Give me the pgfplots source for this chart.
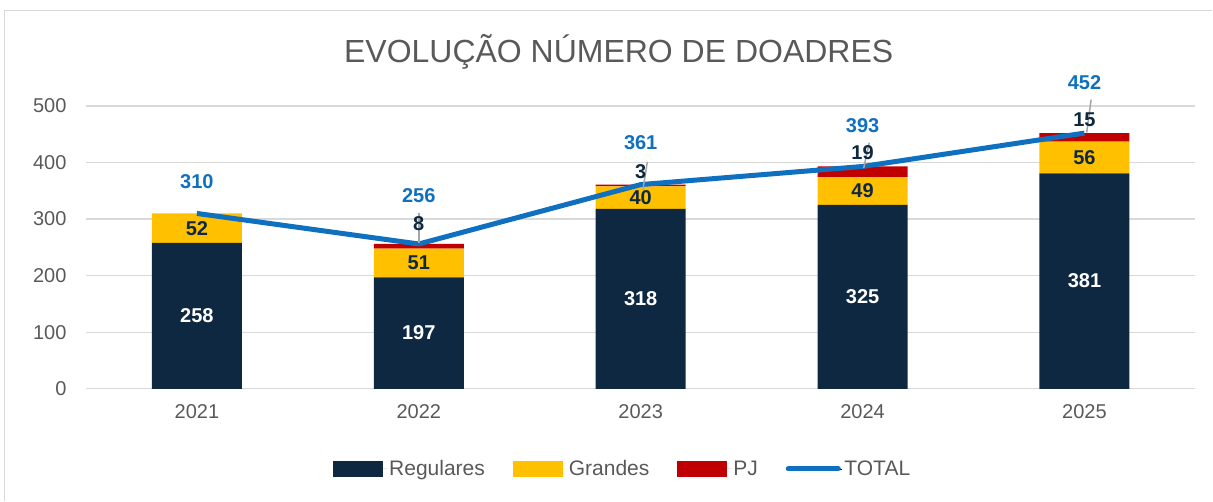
\documentclass[border=0pt]{standalone}
\usepackage{pgfplots}
\usepackage{pgfplotstable}
\pgfplotsset{compat=1.18}
\usepackage{fontspec}
\setmainfont{Liberation Sans}
\definecolor{regc}{HTML}{0E2841}
\definecolor{grac}{HTML}{FFC000}
\definecolor{pjc}{HTML}{C00000}
\definecolor{totc}{HTML}{0F70C0}
\definecolor{leadc}{HTML}{A6A6A6}
\definecolor{gridc}{HTML}{D9D9D9}
\definecolor{tickc}{HTML}{595959}
\pgfplotstableread{
year reg gra pj tot
2021 258 52 0 310
2022 197 51 8 256
2023 318 40 3 361
2024 325 49 19 393
2025 381 56 15 452
}\data
\pgfplotstableread{
year y v
2022 292 8
2023 384 3
2024 417 19
2025 475 15
}\pjlab
\pgfplotstableread{
year y v
2021 366 310
2022 342 256
2023 436 361
2024 466 393
2025 542 452
}\totlab
\begin{document}
\begin{tikzpicture}
\path (0,0) rectangle (1213pt,501pt);
\draw[gridc, line width=1.2pt] (4.5pt,0pt) -- (4.5pt,490.5pt) -- (1213pt,490.5pt);
\node[anchor=base, text=tickc, font=\fontsize{32}{38}\selectfont] at (619pt,438pt) {EVOLUÇÃO NÚMERO DE DOADRES};
\begin{axis}[
  at={(86pt,112pt)}, anchor=south west, scale only axis,
  width=1110pt, height=283pt,
  xmin=2020.5, xmax=2025.5, ymin=0, ymax=500,
  ybar stacked, bar width=90pt,
  xtick={2021,2022,2023,2024,2025},
  xticklabels={2021,2022,2023,2024,2025},
  ytick={0,100,200,300,400,500},
  axis line style={draw=none},
  major tick length=0pt,
  ymajorgrids, grid style={gridc, line width=1.2pt},
  /pgf/number format/assume math mode=true,
  tick label style={font=\fontsize{20}{24}\selectfont, text=tickc},
  yticklabel style={xshift=-16pt},
  xticklabel style={yshift=-12pt},
  legend columns=4,
  legend style={at={(0.4838,-0.2827)}, anchor=center, draw=none, fill=none,
    font=\fontsize{21}{25}\selectfont, text=tickc,
    /tikz/every even column/.append style={column sep=26pt}},
]
\addplot[fill=regc, draw=none,
  legend image code/.code={\path (0pt,0pt) -- (54pt,0pt);\fill[regc] (0pt,-8pt) rectangle (50pt,8pt);}]
  table[x=year,y=reg]{\data};
\addlegendentry{Regulares}
\addplot[fill=grac, draw=none,
  legend image code/.code={\path (0pt,0pt) -- (54pt,0pt);\fill[grac] (0pt,-8pt) rectangle (50pt,8pt);}]
  table[x=year,y=gra]{\data};
\addlegendentry{Grandes}
\addplot[fill=pjc, draw=none,
  legend image code/.code={\path (0pt,0pt) -- (54pt,0pt);\fill[pjc] (0pt,-8pt) rectangle (50pt,8pt);}]
  table[x=year,y=pj]{\data};
\addlegendentry{PJ}
\addlegendimage{legend image code/.code={\path (0pt,0pt) -- (56pt,0pt);\draw[totc, line width=5pt, line cap=round] (2pt,0pt) -- (52pt,0pt);}}
\addlegendentry{TOTAL}
\end{axis}
\begin{axis}[
  at={(86pt,112pt)}, anchor=south west, scale only axis,
  width=1110pt, height=283pt,
  xmin=2020.5, xmax=2025.5, ymin=0, ymax=500,
  hide axis, clip=false,
  /pgf/number format/assume math mode=true,
]
\addplot[totc, line width=5pt, line join=round, mark=none] table[x=year,y=tot]{\data};
\addplot[draw=none, mark=none, nodes near coords, point meta=explicit,
  nodes near coords align=center,
  every node near coord/.append style={text=white, font=\bfseries\fontsize{20}{24}\selectfont}]
  table[x=year, y expr=\thisrow{reg}/2, meta=reg]{\data};
\addplot[draw=none, mark=none, nodes near coords, point meta=explicit,
  nodes near coords align=center,
  every node near coord/.append style={text=regc, font=\bfseries\fontsize{20}{24}\selectfont}]
  table[x=year, y expr=\thisrow{reg}+\thisrow{gra}/2, meta=gra]{\data};
\addplot[draw=none, mark=none, nodes near coords, point meta=explicit,
  nodes near coords align=center,
  every node near coord/.append style={text=regc, font=\bfseries\fontsize{20}{24}\selectfont}]
  table[x=year, y=y, meta=v]{\pjlab};
\addplot[leadc, line width=1.5pt, mark=none] coordinates {(2022,311) (2022,257)};
\addplot[leadc, line width=1.5pt, mark=none] coordinates {(2023.03,401) (2023.01,352)};
\addplot[leadc, line width=1.5pt, mark=none] coordinates {(2024.03,435) (2024.005,390)};
\addplot[leadc, line width=1.5pt, mark=none] coordinates {(2025.03,511) (2025.01,453)};
\addplot[draw=none, mark=none, nodes near coords, point meta=explicit,
  nodes near coords align=center,
  every node near coord/.append style={text=totc, font=\bfseries\fontsize{20}{24}\selectfont}]
  table[x=year, y=y, meta=v]{\totlab};
\end{axis}
\end{tikzpicture}
\end{document}
